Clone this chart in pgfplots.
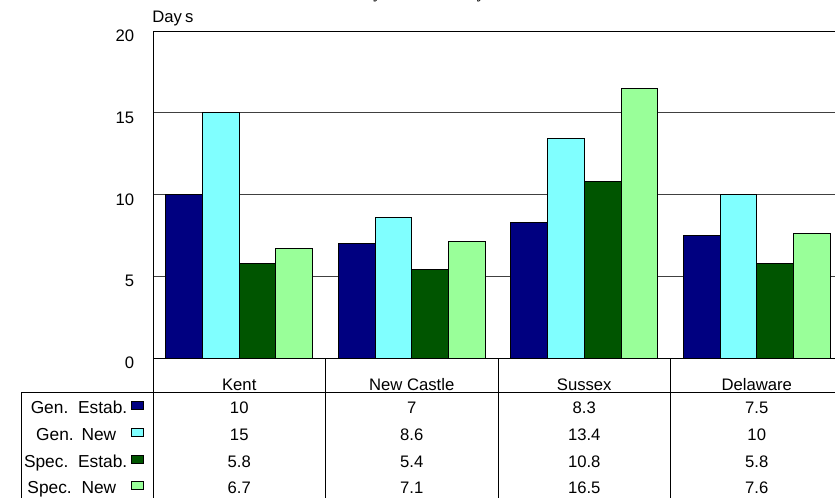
\documentclass[border=0pt]{standalone}
\usepackage{fontspec}
\setmainfont{Liberation Sans}
\newfontfamily\titlefont{Liberation Serif}
\usepackage{pgfplots}
\pgfplotsset{compat=1.18}
\definecolor{genE}{RGB}{0,0,128}
\definecolor{genN}{RGB}{128,255,255}
\definecolor{specE}{RGB}{0,85,0}
\definecolor{specN}{RGB}{153,255,153}
\begin{document}
\begin{tikzpicture}[x=0.75pt,y=0.75pt]
\begin{axis}[
 at={(114.75pt,104.25pt)}, anchor=south west,
 scale only axis, width=517.5pt, height=245.25pt,
 xmin=-0.5, xmax=3.5, ymin=0, ymax=20,
 ybar=0pt, bar width=0.213,
 ytick={0,5,10,15,20}, xtick=\empty,
 ymajorgrids, major grid style={black!75, line width=0.75pt},
 axis line style={line width=0.75pt},
 major tick length=0pt,
 /pgf/number format/assume math mode=true,
 yticklabel style={font=\fontsize{12.5}{14}\selectfont, inner sep=0pt, xshift=-14pt, yshift=-3.75pt},
 every axis plot/.append style={draw=black, line width=0.75pt},
 clip=false,
]
\addplot[fill=genE] coordinates {(0,10) (1,7) (2,8.3) (3,7.5)};
\addplot[fill=genN] coordinates {(0,15) (1,8.6) (2,13.4) (3,10)};
\addplot[fill=specE] coordinates {(0,5.8) (1,5.4) (2,10.8) (3,5.8)};
\addplot[fill=specN] coordinates {(0,6.7) (1,7.1) (2,16.5) (3,7.6)};
\end{axis}
% title (cut off at the top, as in the reference)
\node[anchor=base west, inner sep=0pt, font=\titlefont\bfseries\fontsize{12}{14}\selectfont] at (307.7,498) {Mean Stay in Facilities by};
% y axis unit
\node[anchor=base west, inner sep=0pt, font=\fontsize{12.5}{14}\selectfont] at (152,474.5) {Day\kern2.5pt s};
% data table
\begin{scope}[line width=0.75pt]
\draw (21,105) -- (843,105);
\draw (21,105) -- (21,-1);
\foreach \x in {153,325.5,498,670.5} \draw (\x,139) -- (\x,-1);
\end{scope}
\begin{scope}[every node/.style={inner sep=0pt, font=\fontsize{12.5}{14}\selectfont}]
\node[anchor=base] at (239.25,107) {Kent};
\node[anchor=base] at (411.75,107) {New Castle};
\node[anchor=base] at (584.25,107) {Sussex};
\node[anchor=base] at (756.75,107) {Delaware};
% legend labels
\node[anchor=base east, font=\fontsize{13}{14}\selectfont] at (127.5,84) {Gen.\hspace{2.5pt} Estab.};
\node[anchor=base east, font=\fontsize{13}{14}\selectfont] at (116.5,57) {Gen.\hspace{1pt} New};
\node[anchor=base east, font=\fontsize{13}{14}\selectfont] at (127.5,30) {Spec.\hspace{2.5pt} Estab.};
\node[anchor=base east, font=\fontsize{13}{14}\selectfont] at (116.5,3.5) {Spec.\hspace{2.5pt} New};
% values
\node[anchor=base] at (239.25,84) {10};
\node[anchor=base] at (411.75,84) {7};
\node[anchor=base] at (584.25,84) {8.3};
\node[anchor=base] at (756.75,84) {7.5};
\node[anchor=base] at (239.25,57) {15};
\node[anchor=base] at (411.75,57) {8.6};
\node[anchor=base] at (584.25,57) {13.4};
\node[anchor=base] at (756.75,57) {10};
\node[anchor=base] at (239.25,30) {5.8};
\node[anchor=base] at (411.75,30) {5.4};
\node[anchor=base] at (584.25,30) {10.8};
\node[anchor=base] at (756.75,30) {5.8};
\node[anchor=base] at (239.25,3.5) {6.7};
\node[anchor=base] at (411.75,3.5) {7.1};
\node[anchor=base] at (584.25,3.5) {16.5};
\node[anchor=base] at (756.75,3.5) {7.6};
\end{scope}
% legend swatches
\begin{scope}[line width=0.75pt, draw=black]
\filldraw[fill=genE] (131,88) rectangle (143,96);
\filldraw[fill=genN] (131,61) rectangle (143,69);
\filldraw[fill=specE] (131,34) rectangle (143,42);
\filldraw[fill=specN] (131,7.5) rectangle (143,15.5);
\end{scope}
\pgfresetboundingbox
\useasboundingbox (0,0) rectangle (835,497);
\end{tikzpicture}
\end{document}
